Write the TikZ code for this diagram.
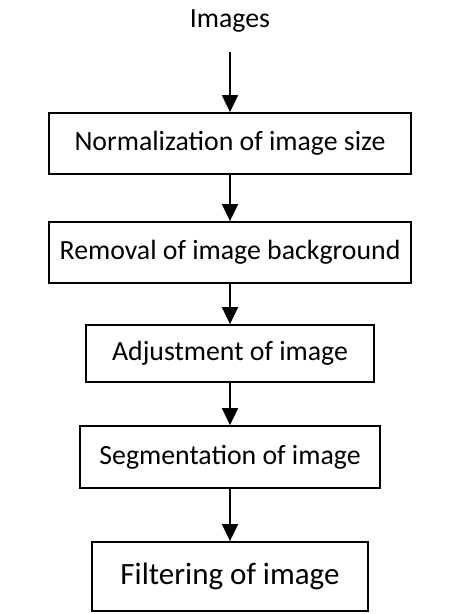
\documentclass[tikz,border=0pt]{standalone}
\usepackage{fontspec}
\setmainfont{Carlito}
\usetikzlibrary{arrows.meta}
\begin{document}
\begin{tikzpicture}[x=1pt,y=-1pt,
  stepbox/.style={draw,line width=1.8pt,inner sep=0pt,
    font=\fontsize{27.8}{33}\selectfont},
  flow/.style={line width=1.8pt,-{Triangle[length=17pt,width=16pt]}}]
  \useasboundingbox (0,0) rectangle (464,614);
  \node[font=\fontsize{27.8}{33}\selectfont,inner sep=0pt] (img) at (230,21) {Images};
  \coordinate (top) at (230,52);
  \node[stepbox,minimum width=362pt,minimum height=61pt] (b1) at (230,143.5) {Normalization of image size};
  \node[stepbox,minimum width=362pt,minimum height=61pt] (b2) at (230,252.5) {Removal of image background};
  \node[stepbox,minimum width=288pt,minimum height=57pt] (b3) at (230,353.5) {Adjustment of image};
  \node[stepbox,minimum width=300pt,minimum height=62pt] (b4) at (230,457) {Segmentation of image};
  \node[stepbox,minimum width=276pt,minimum height=69pt,
    font=\fontsize{31}{37}\selectfont] (b5) at (230,576.5) {Filtering of image};
  \draw[flow] (top) -- (b1.north);
  \draw[flow] (b1) -- (b2);
  \draw[flow] (b2) -- (b3);
  \draw[flow] (b3) -- (b4);
  \draw[flow] (b4) -- (b5);
\end{tikzpicture}
\end{document}
